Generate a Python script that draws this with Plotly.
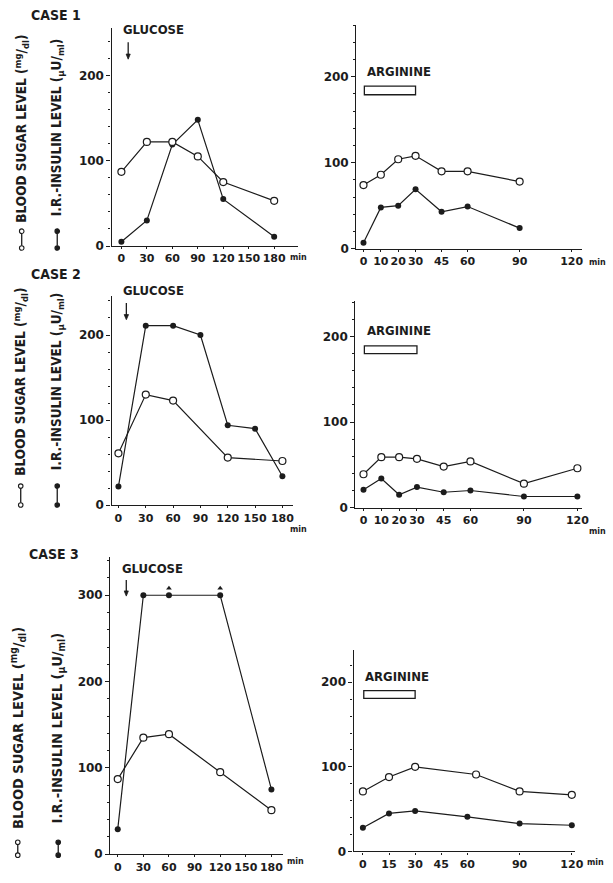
import plotly.graph_objects as go

W, H = 613, 883

# ---------------- data ----------------
case1_glu_t = [0, 30, 60, 90, 120, 180]
case1_glu_sugar = [87, 122, 122, 105, 75, 53]
case1_glu_ins = [5, 30, 119, 148, 55, 11]

case1_arg_t = [0, 10, 20, 30, 45, 60, 90]
case1_arg_sugar = [74, 86, 104, 108, 90, 90, 78]
case1_arg_ins = [7, 48, 50, 69, 43, 49, 24]

case2_glu_sugar_t = [0, 30, 60, 120, 180]
case2_glu_sugar = [61, 130, 123, 56, 52]
case2_glu_ins_t = [0, 30, 60, 90, 120, 150, 180]
case2_glu_ins = [22, 211, 211, 200, 94, 90, 34]

case2_arg_t = [0, 10, 20, 30, 45, 60, 90, 120]
case2_arg_sugar = [39, 59, 59, 57, 48, 54, 28, 46]
case2_arg_ins = [21, 34, 15, 24, 18, 20, 13, 13]

case3_glu_t = [0, 30, 60, 120, 180]
case3_glu_sugar = [87, 135, 139, 95, 51]
case3_glu_ins = [29, 300, 300, 300, 75]
case3_over_t = [60, 120]
case3_over = [308, 308]

case3_arg_sugar_t = [0, 15, 30, 65, 90, 120]
case3_arg_sugar = [71, 88, 100, 91, 71, 67]
case3_arg_ins_t = [0, 15, 30, 60, 90, 120]
case3_arg_ins = [28, 45, 48, 41, 33, 31]

glu_ticks = [0, 30, 60, 90, 120, 150, 180]
arg_ticks_12 = [0, 10, 20, 30, 45, 60, 90, 120]
arg_ticks_3 = [0, 15, 30, 45, 60, 90, 120]
y_ticks = [0, 100, 200]
y_ticks_300 = [0, 100, 200, 300]

case_labels = ["CASE 1", "CASE 2", "CASE 3"]
sugar_label = "BLOOD SUGAR LEVEL (<sup>mg</sup>/<sub>dl</sub>)"
ins_label = "I.R.-INSULIN LEVEL (<sub>µ</sub>U/<sub>ml</sub>)"

# ---------------- panel geometry (pixels) ----------------
panels = [
    dict(yx=113, x0=123, ppm=0.86, xe=302, zy=248, ppu=0.86, top=28, ticks=glu_ticks, yt=y_ticks),
    dict(yx=361, x0=368.3, ppm=1.758, xe=590, zy=250.7, ppu=0.867, top=25, ticks=arg_ticks_12, yt=y_ticks),
    dict(yx=113, x0=120, ppm=0.923, xe=297, zy=509.3, ppu=0.858, top=298, ticks=glu_ticks, yt=y_ticks),
    dict(yx=360, x0=368.3, ppm=1.806, xe=590, zy=511.7, ppu=0.863, top=303, ticks=arg_ticks_12, yt=y_ticks),
    dict(yx=111.7, x0=119.3, ppm=0.865, xe=287, zy=861, ppu=0.87, top=561.7, ticks=glu_ticks, yt=y_ticks_300),
    dict(yx=358.3, x0=367.7, ppm=1.764, xe=583, zy=858.3, ppu=0.853, top=655, ticks=arg_ticks_3, yt=y_ticks),
]

INK = "#1c1c1c"
XTICKFONT = dict(family="DejaVu Sans, Liberation Sans, sans-serif", size=11, color=INK, weight="bold")
YTICKFONT = dict(family="DejaVu Sans, Liberation Sans, sans-serif", size=12, color=INK, weight="bold")
COND = "DejaVu Sans Condensed, Liberation Sans Narrow, DejaVu Sans, sans-serif"

fig = go.Figure()
layout = dict(width=W, height=H, margin=dict(l=0, r=0, t=0, b=0),
              paper_bgcolor="white", plot_bgcolor="white", showlegend=False)

for i, p in enumerate(panels):
    n = i + 1
    xr = [(p["yx"] - p["x0"]) / p["ppm"], (p["xe"] - p["x0"]) / p["ppm"]]
    yr = [0, (p["zy"] - p["top"]) / p["ppu"]]
    layout[f"xaxis{n}"] = dict(
        domain=[p["yx"] / W, p["xe"] / W], range=xr, anchor=f"y{n}",
        showline=True, linecolor=INK, linewidth=1.3, showgrid=False, zeroline=False,
        tickvals=p["ticks"], ticktext=[str(v) for v in p["ticks"]], tickangle=0,
        ticks="outside", ticklen=2, tickwidth=1.2, tickcolor=INK, tickfont=XTICKFONT,
        fixedrange=True)
    layout[f"yaxis{n}"] = dict(
        domain=[1 - p["zy"] / H, 1 - p["top"] / H], range=yr, anchor=f"x{n}",
        showline=True, linecolor=INK, linewidth=1.3, showgrid=False, zeroline=False,
        tickvals=p["yt"], ticktext=[str(v) for v in p["yt"]],
        ticks="outside", ticklen=4, tickwidth=1.2, tickcolor=INK, tickfont=YTICKFONT,
        minor=dict(dtick=20, tick0=0, ticks="outside", ticklen=2, tickwidth=1, tickcolor=INK, showgrid=False),
        fixedrange=True)


def sugar(x, y, n):
    fig.add_trace(go.Scatter(x=x, y=y, xaxis=f"x{n}", yaxis=f"y{n}", mode="lines+markers",
                             line=dict(color=INK, width=1.2), cliponaxis=False,
                             marker=dict(symbol="circle", size=7, color="white",
                                         line=dict(color=INK, width=1.2))))


def insulin(x, y, n):
    fig.add_trace(go.Scatter(x=x, y=y, xaxis=f"x{n}", yaxis=f"y{n}", mode="lines+markers",
                             line=dict(color=INK, width=1.2), cliponaxis=False,
                             marker=dict(symbol="circle", size=6, color=INK)))


insulin(case1_glu_t, case1_glu_ins, 1)
sugar(case1_glu_t, case1_glu_sugar, 1)
insulin(case1_arg_t, case1_arg_ins, 2)
sugar(case1_arg_t, case1_arg_sugar, 2)
insulin(case2_glu_ins_t, case2_glu_ins, 3)
sugar(case2_glu_sugar_t, case2_glu_sugar, 3)
insulin(case2_arg_t, case2_arg_ins, 4)
sugar(case2_arg_t, case2_arg_sugar, 4)
insulin(case3_glu_t, case3_glu_ins, 5)
sugar(case3_glu_t, case3_glu_sugar, 5)
fig.add_trace(go.Scatter(x=case3_over_t, y=case3_over, xaxis="x5", yaxis="y5", mode="markers",
                         cliponaxis=False, marker=dict(symbol="triangle-up", size=5, color=INK)))
insulin(case3_arg_ins_t, case3_arg_ins, 6)
sugar(case3_arg_sugar_t, case3_arg_sugar, 6)

annotations = []
shapes = []


def px(x):
    return x / W


def py(y):
    return 1 - y / H


# case labels
for lab, (x, y) in zip(case_labels, [(57, 15), (57, 276), (55, 558)]):
    annotations.append(dict(text=lab, x=px(x), y=py(y), xref="paper", yref="paper",
                            showarrow=False, xanchor="center", yanchor="middle",
                            font=dict(family=COND, size=14, color=INK, weight="bold")))

# GLUCOSE labels and arrows
glu_info = [
    (123, 30, 1, 8, 219, 17),
    (123, 293, 3, 8.7, 218, 17),
    (122, 573, 5, 10, 299, 16),
]
for tx, ty, n, ax_, tip, ln in glu_info:
    annotations.append(dict(text="GLUCOSE", x=px(tx), y=py(ty), xref="paper", yref="paper",
                            showarrow=False, xanchor="left", yanchor="middle",
                            font=dict(family=COND, size=13, color=INK, weight="bold")))
    shapes.append(dict(type="line", xref=f"x{n}", yref=f"y{n}", x0=ax_, x1=ax_,
                       y0=tip + ln / 0.86, y1=tip + 4, line=dict(color=INK, width=1.3)))
    shapes.append(dict(type="path", xref=f"x{n}", yref=f"y{n}",
                       path=f"M {ax_ - 2.4},{tip + 6} L {ax_ + 2.4},{tip + 6} L {ax_},{tip} Z",
                       fillcolor=INK, line=dict(color=INK, width=0.8)))

# ARGININE labels and infusion bars
arg_info = [(370, 72, 2, 179, 189), (370, 333, 4, 180, 189), (368, 682, 6, 181, 190)]
for tx, ty, n, b0, b1 in arg_info:
    annotations.append(dict(text="ARGININE", x=px(tx), y=py(ty), xref="paper", yref="paper",
                            showarrow=False, xanchor="left", yanchor="middle",
                            font=dict(family=COND, size=13, color=INK, weight="bold")))
    shapes.append(dict(type="rect", xref=f"x{n}", yref=f"y{n}", x0=0.5, x1=30, y0=b0, y1=b1,
                       line=dict(color=INK, width=1.3), fillcolor="white"))

# min labels
for x, y in [(302, 260), (605, 265), (302, 534), (605, 536), (299, 868), (603, 869)]:
    annotations.append(dict(text="min", x=px(x), y=py(y), xref="paper", yref="paper",
                            showarrow=False, xanchor="center", yanchor="middle",
                            font=dict(family="DejaVu Sans, sans-serif", size=8, color=INK, weight="bold")))

# vertical axis titles with legend symbols
titles = [
    ((22, 130, 13.5), (58, 129, 13.5), 233, 250),
    ((21, 385, 13.5), (58, 385, 13.5), 490, 509),
    ((18, 734, 14.5), (59, 734, 14.5), 849, 862),
]
for (sx, sy, ss), (ix, iy, isz), s0, s1 in titles:
    annotations.append(dict(text=sugar_label, x=px(sx), y=py(sy), xref="paper", yref="paper",
                            showarrow=False, textangle=-90, xanchor="center", yanchor="middle",
                            font=dict(family=COND, size=ss, color=INK, weight="bold")))
    annotations.append(dict(text=ins_label, x=px(ix), y=py(iy), xref="paper", yref="paper",
                            showarrow=False, textangle=-90, xanchor="center", yanchor="middle",
                            font=dict(family=COND, size=isz, color=INK, weight="bold")))
    for cx, filled in [(sx, False), (ix, True)]:
        r = 2.3
        shapes.append(dict(type="line", xref="paper", yref="paper", x0=px(cx), x1=px(cx),
                           y0=py(s0 + r), y1=py(s1 - r), line=dict(color=INK, width=1.3)))
        for cy in (s0, s1):
            shapes.append(dict(type="circle", xref="paper", yref="paper",
                               x0=px(cx - r), x1=px(cx + r), y0=py(cy + r), y1=py(cy - r),
                               line=dict(color=INK, width=1.1),
                               fillcolor=INK if filled else "white"))

layout["annotations"] = annotations
layout["shapes"] = shapes
fig.update_layout(**layout)
fig.write_html("out.html")
